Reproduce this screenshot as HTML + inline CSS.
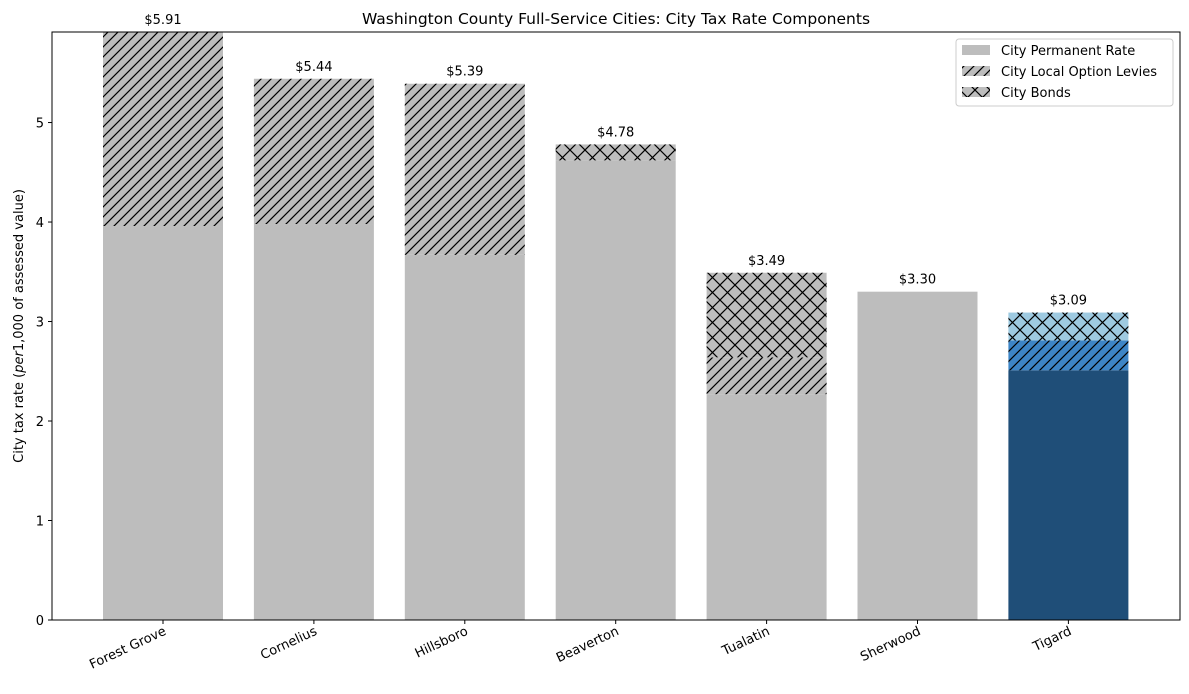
<!DOCTYPE html>
<html><head><meta charset="utf-8"><style>
body{margin:0;background:#fff;font-family:"DejaVu Sans","Liberation Sans",sans-serif}
svg text{font-family:"DejaVu Sans","Liberation Sans",sans-serif}
</style></head><body>
<svg id="chart" width="1189" height="690" xmlns="http://www.w3.org/2000/svg">
<defs>
<pattern id="diag" patternUnits="userSpaceOnUse" width="10" height="10">
<path d="M-3,3 L3,-3 M0,10 L10,0 M7,13 L13,7" stroke="#000" stroke-width="1.2"/></pattern>
<pattern id="cross" patternUnits="userSpaceOnUse" width="15" height="15">
<path d="M0,0 L15,15 M15,0 L0,15" stroke="#000" stroke-width="1.2"/></pattern>
</defs>
<g id="plot"></g>
</svg>
<script>
const categories=["Forest Grove","Cornelius","Hillsboro","Beaverton","Tualatin","Sherwood","Tigard"];
const permanent=[3.96,3.98,3.67,4.62,2.27,3.30,2.51];
const levies=[1.95,1.46,1.72,0,0.37,0,0.30];
const bonds=[0,0,0,0.16,0.85,0,0.28];
const totalLabels=["$5.91","$5.44","$5.39","$4.78","$3.49","$3.30","$3.09"];
const yTicks=[0,1,2,3,4,5];
const NS="http://www.w3.org/2000/svg";
const L=52,R=1180,T=32,B=620,yMax=5.91;
const y=v=>B-(v/yMax)*(B-T);
const x=i=>L+111+i*150.9;
const bw=120;
const g=document.getElementById('plot');
function mk(tag,attrs,parent){const e=document.createElementNS(NS,tag);for(const k in attrs)e.setAttribute(k,attrs[k]);(parent||g).appendChild(e);return e;}
categories.forEach((c,i)=>{
  const hi=i===categories.length-1;
  const cx=x(i);
  const segs=[[permanent[i],hi?'#1f4e78':'#bdbdbd',null,'permanent'],[levies[i],hi?'#3d85c6':'#bdbdbd','url(#diag)','levy'],[bonds[i],hi?'#9ecae1':'#bdbdbd','url(#cross)','bond']];
  let base=0;
  segs.forEach(s=>{
    if(s[0]<=0)return;
    const r=mk('rect',{x:cx-bw/2,y:y(base+s[0]),width:bw,height:y(base)-y(base+s[0]),fill:s[1]});
    
    
    if(s[2]){const h=mk('rect',{x:cx-bw/2,y:y(base+s[0]),width:bw,height:y(base)-y(base+s[0]),fill:s[2]});
      
      }
    base+=s[0];
  });
  const t=mk('text',{x:cx,y:y(base)-8,'text-anchor':'middle','font-size':13});t.textContent=totalLabels[i];
  
  
  mk('line',{x1:cx,x2:cx,y1:B,y2:B+4,stroke:'#000'});
  const xl=mk('text',{x:cx+4,y:B+14,'text-anchor':'end','font-size':13,transform:`rotate(-25 ${cx+4} ${B+14})`});xl.textContent=c;
  
  
});
yTicks.forEach(v=>{
  mk('line',{x1:L-4,x2:L,y1:y(v),y2:y(v),stroke:'#000'});
  const t=mk('text',{x:L-8,y:y(v)+5,'text-anchor':'end','font-size':13});t.textContent=v;
  
  
});
const fr=mk('rect',{x:L,y:T,width:R-L,height:B-T,fill:'none',stroke:'#000','stroke-width':1});


const ti=mk('text',{x:(L+R)/2,y:24,'text-anchor':'middle','font-size':15.5});ti.textContent='Washington County Full-Service Cities: City Tax Rate Components';


const yt=mk('text',{x:23,y:(T+B)/2,'text-anchor':'middle','font-size':13,transform:`rotate(-90 23 ${(T+B)/2})`});
yt.innerHTML='City tax rate (<tspan font-style="italic">per</tspan>1,000 of assessed value)';


const lg=mk('g',{});


mk('rect',{x:956,y:39,width:217,height:67,fill:'#fff',stroke:'#ccc',rx:3},lg);
const items=[['City Permanent Rate',null],['City Local Option Levies','url(#diag)'],['City Bonds','url(#cross)']];
items.forEach((it,k)=>{
  const yy=43+k*21;
  mk('rect',{x:962,y:yy+2,width:28,height:10,fill:'#bdbdbd'},lg);
  if(it[1])mk('rect',{x:962,y:yy+2,width:28,height:10,fill:it[1]},lg);
  const t=mk('text',{x:1001,y:yy+12,'font-size':13},lg);t.textContent=it[0];
  
  
});
</script>
</body></html>
